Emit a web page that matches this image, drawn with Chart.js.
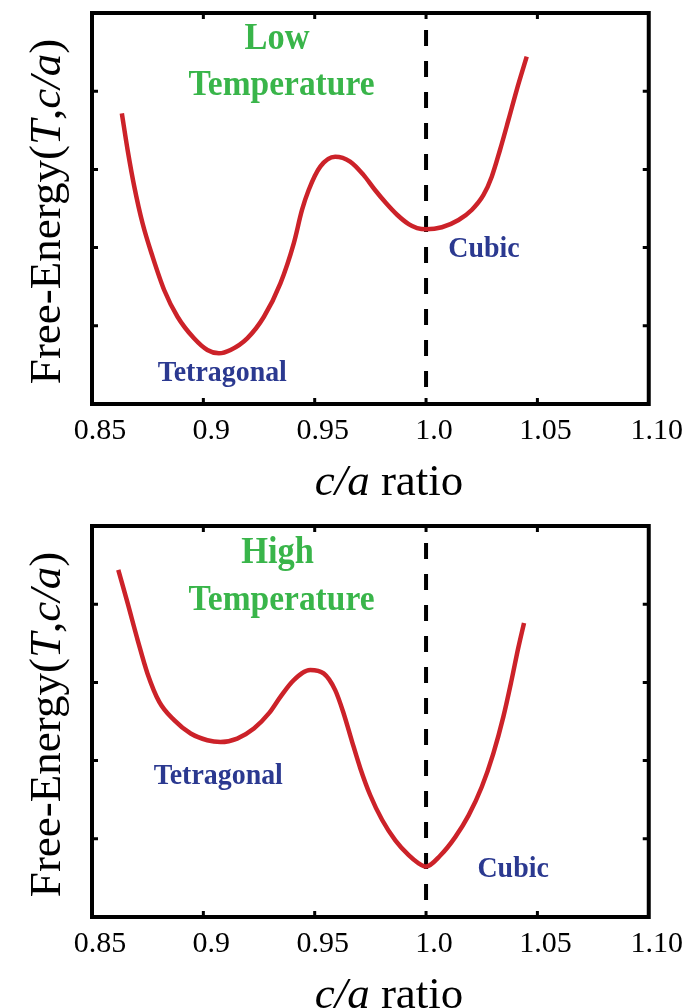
<!DOCTYPE html>
<html>
<head>
<meta charset="utf-8">
<script src="https://cdn.jsdelivr.net/npm/chart.js@4/dist/chart.umd.min.js"></script>
<style>
  body { margin: 0; background: #fff; }
  canvas { display: block; }
</style>
</head>
<body>
<canvas id="lowT" width="684" height="504"></canvas>
<canvas id="highT" width="684" height="504"></canvas>
<script>
// c/a ratio axis
const xTicks = [0.85, 0.9, 0.95, 1.0, 1.05, 1.10]
const xTickLabels = ["0.85", "0.9", "0.95", "1.0", "1.05", "1.10"]
const xMin = 0.85
const xMax = 1.10
const yMin = 0
const yMax = 5
const yTicks = [1, 2, 3, 4]
const cubicRatio = 1.0

// low temperature curve (arbitrary energy units)
const lowX = [0.8634, 0.8660, 0.8690, 0.8727, 0.8772, 0.8824, 0.8884, 0.8958, 0.9018, 0.9070,
              0.9122, 0.9197, 0.9272, 0.9346, 0.9406, 0.9443, 0.9473, 0.9525, 0.9592, 0.9659,
              0.9719, 0.9770, 0.9820, 0.9870, 0.9922, 0.9960, 1.0000, 1.0071, 1.0146, 1.0205,
              1.0258, 1.0295, 1.0332, 1.0370, 1.0407, 1.0452]
const lowY = [3.717, 3.248, 2.779, 2.311, 1.884, 1.458, 1.116, 0.840, 0.691, 0.648,
              0.691, 0.840, 1.116, 1.543, 2.055, 2.481, 2.737, 3.035, 3.162, 3.100,
              2.930, 2.740, 2.570, 2.420, 2.300, 2.250, 2.234, 2.260, 2.353, 2.481,
              2.673, 2.907, 3.248, 3.632, 4.015, 4.441]

// high temperature curve
const highX = [0.8618, 0.8660, 0.8705, 0.8749, 0.8802, 0.8869, 0.8943, 0.9018, 0.9077, 0.9152,
               0.9227, 0.9294, 0.9346, 0.9406, 0.9480, 0.9540, 0.9592, 0.9630, 0.9667, 0.9705,
               0.9749, 0.9803, 0.9862, 0.9922, 0.9965, 1.0000, 1.0064, 1.0131, 1.0191, 1.0250,
               1.0302, 1.0347, 1.0384, 1.0414, 1.0440]
const highY = [4.440, 4.013, 3.542, 3.115, 2.751, 2.517, 2.346, 2.260, 2.238, 2.282,
               2.410, 2.603, 2.815, 3.029, 3.158, 3.115, 2.901, 2.603, 2.250, 1.900,
               1.560, 1.240, 0.980, 0.790, 0.690, 0.645, 0.786, 1.021, 1.299, 1.662,
               2.090, 2.559, 3.029, 3.440, 3.760]

const SERIF = "'Liberation Serif', 'Times New Roman', serif"
const GREEN = "#39b54a"
const BLUE = "#2b3990"

function drawRich(ctx, parts, size){
    // parts: [text, italic] drawn left to right centred on 0
    let total = 0
    const widths = parts.map(p => {
        ctx.font = (p[1] ? "italic " : "") + size + "px " + SERIF
        const w = ctx.measureText(p[0]).width
        total += w
        return w
    })
    let x = -total / 2
    parts.forEach((p, i) => {
        ctx.font = (p[1] ? "italic " : "") + size + "px " + SERIF
        ctx.fillText(p[0], x, 0)
        x += widths[i]
    })
}

const framePlugin = {
    id: "frame",
    afterDatasetsDraw(chart){
        const ctx = chart.ctx
        const a = chart.chartArea
        const xs = chart.scales.x
        const ys = chart.scales.y
        ctx.save()
        ctx.strokeStyle = "#000"
        ctx.lineWidth = 4
        ctx.strokeRect(a.left, a.top, a.right - a.left, a.bottom - a.top)
        ctx.lineWidth = 3
        ctx.beginPath()
        for (const v of xTicks.slice(1, -1)){
            const px = xs.getPixelForValue(v)
            ctx.moveTo(px, a.bottom); ctx.lineTo(px, a.bottom - 6)
            ctx.moveTo(px, a.top); ctx.lineTo(px, a.top + 6)
        }
        for (const v of yTicks){
            const py = ys.getPixelForValue(v)
            ctx.moveTo(a.left, py); ctx.lineTo(a.left + 6, py)
            ctx.moveTo(a.right, py); ctx.lineTo(a.right - 6, py)
        }
        ctx.stroke()
        ctx.restore()
    },
    afterDraw(chart){
        const ctx = chart.ctx
        const a = chart.chartArea
        const xs = chart.scales.x
        const ys = chart.scales.y
        ctx.save()
        ctx.fillStyle = "#000"
        ctx.textAlign = "left"
        ctx.textBaseline = "alphabetic"

        // y label
        ctx.save()
        ctx.translate(60, (a.top + a.bottom) / 2 + 3)
        ctx.rotate(-Math.PI / 2)
        drawRich(ctx, [["Free-Energy(", false], ["T", true], [",", false], ["c/a", true], [")", false]], 45)
        ctx.restore()

        // x label
        ctx.save()
        ctx.translate(389, a.bottom + 91)
        drawRich(ctx, [["c/a", true], [" ratio", false]], 45)
        ctx.restore()

        // notes
        ctx.textAlign = "center"
        for (const n of chart.options.plugins.frame.notes){
            ctx.save()
            ctx.translate(xs.getPixelForValue(n.x), ys.getPixelForValue(n.y))
            ctx.scale(0.93, 1)
            ctx.fillStyle = n.color
            ctx.font = "bold " + n.size + "px " + SERIF
            ctx.fillText(n.text, 0, 0)
            ctx.restore()
        }
        ctx.restore()
    }
}

function makeChart(id, xsData, ysData, padTop, notes){
    const ctx = document.getElementById(id).getContext("2d")
    return new Chart(ctx, {
        type: "line",
        data: {
            datasets: [
                {
                    data: xsData.map((x, i) => ({x: x, y: ysData[i]})),
                    borderColor: "#cc2229",
                    borderWidth: 4.5,
                    pointRadius: 0,
                    cubicInterpolationMode: "monotone",
                    fill: false
                },
                {
                    data: [{x: cubicRatio, y: yMax}, {x: cubicRatio, y: yMin}],
                    borderColor: "#000",
                    borderWidth: 4,
                    borderDash: [16, 15],
                    borderDashOffset: 14,
                    pointRadius: 0,
                    fill: false
                }
            ]
        },
        options: {
            responsive: false,
            animation: false,
            layout: { padding: { top: padTop, right: 33, left: 0, bottom: 0 } },
            plugins: {
                legend: { display: false },
                tooltip: { enabled: false },
                frame: { notes: notes }
            },
            scales: {
                x: {
                    type: "linear",
                    min: xMin,
                    max: xMax,
                    afterBuildTicks: s => { s.ticks = xTicks.map(v => ({value: v})) },
                    afterFit: s => { s.height = 504 - padTop - 391 },
                    grid: { display: false, drawTicks: false },
                    border: { display: false },
                    ticks: {
                        callback: (v, i) => xTickLabels[i],
                        font: { family: SERIF, size: 30 },
                        color: "#000",
                        padding: 9,
                        labelOffset: 8,
                        maxRotation: 0,
                        autoSkip: false
                    }
                },
                y: {
                    type: "linear",
                    min: yMin,
                    max: yMax,
                    afterFit: s => { s.width = 92 },
                    grid: { display: false, drawTicks: false },
                    border: { display: false },
                    ticks: { display: false }
                }
            }
        },
        plugins: [framePlugin]
    })
}

makeChart("lowT", lowX, lowY, 13, [
    {text: "Low", x: 0.9331, y: 4.54, color: GREEN, size: 37},
    {text: "Temperature", x: 0.9351, y: 3.951, color: GREEN, size: 36},
    {text: "Tetragonal", x: 0.9085, y: 0.298, color: BLUE, size: 30},
    {text: "Cubic", x: 1.0260, y: 1.884, color: BLUE, size: 30}
])

makeChart("highT", highX, highY, 22, [
    {text: "High", x: 0.9333, y: 4.526, color: GREEN, size: 37},
    {text: "Temperature", x: 0.9351, y: 3.927, color: GREEN, size: 36},
    {text: "Tetragonal", x: 0.9067, y: 1.705, color: BLUE, size: 30},
    {text: "Cubic", x: 1.0391, y: 0.508, color: BLUE, size: 30}
])
</script>
</body>
</html>
